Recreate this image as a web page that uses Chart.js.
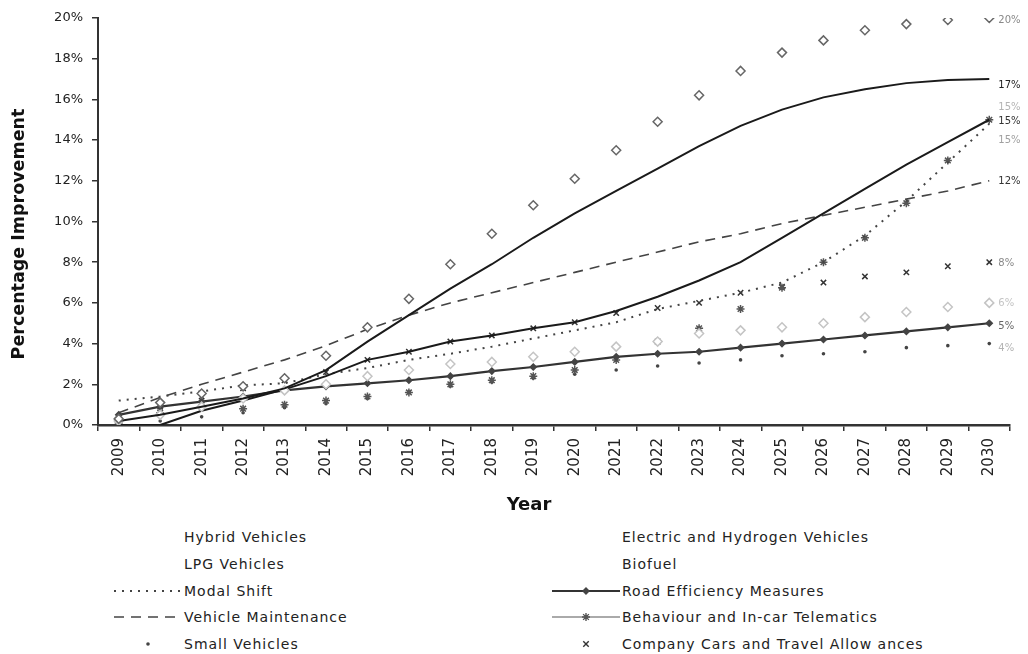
<!DOCTYPE html>
<html lang="en">
<head>
<meta charset="UTF-8">
<title>Percentage Improvement</title>
<script src="https://cdn.jsdelivr.net/npm/chart.js"></script>
<style>
  body { margin: 0; background: #fff; font-family: "DejaVu Sans", sans-serif; }
  #wrap { position: relative; width: 1028px; height: 654px; overflow: hidden; }
  #chart { position: absolute; left: 0; top: 0; }
  .item { position: absolute; height: 20px; display: flex; align-items: center; font-size: 14px; letter-spacing: 1px; color: #222; white-space: nowrap; }
  .item canvas { display: block; }
</style>
</head>
<body>
<div id="wrap">
  <canvas id="chart" width="1028" height="520"></canvas>
  <div id="legend"></div>
</div>
<script>
// data (percent)
const years = ['2009','2010','2011','2012','2013','2014','2015','2016','2017','2018','2019',
               '2020','2021','2022','2023','2024','2025','2026','2027','2028','2029','2030'];
const yTicks = [0, 2, 4, 6, 8, 10, 12, 14, 16, 18, 20];

const names = ['Hybrid Vehicles', 'Electric and Hydrogen Vehicles', 'LPG Vehicles', 'Biofuel',
               'Modal Shift', 'Road Efficiency Measures', 'Vehicle Maintenance',
               'Behaviour and In-car Telematics', 'Small Vehicles', 'Company Cars and Travel Allow ances'];

const hybrid      = [0.3, 1.1, 1.55, 1.9, 2.3, 3.4, 4.8, 6.2, 7.9, 9.4, 10.8, 12.1, 13.5, 14.9, 16.2, 17.4, 18.3, 18.9, 19.4, 19.7, 19.9, 20.0];
const electric    = [0.2, 0.5, 0.9, 1.3, 1.8, 2.7, 4.1, 5.4, 6.7, 7.9, 9.2, 10.4, 11.5, 12.6, 13.7, 14.7, 15.5, 16.1, 16.5, 16.8, 16.95, 17.0];
const lpg         = [0.2, 0.5, 0.9, 1.3, 1.7, 2.0, 2.4, 2.7, 3.0, 3.1, 3.35, 3.6, 3.85, 4.1, 4.5, 4.65, 4.8, 5.0, 5.3, 5.55, 5.8, 6.0];
const biofuel     = [0.0, 0.0, 0.7, 1.2, 1.75, 2.4, 3.2, 3.6, 4.1, 4.4, 4.75, 5.05, 5.6, 6.3, 7.1, 8.0, 9.2, 10.4, 11.6, 12.8, 13.9, 15.0];
const modal       = [1.2, 1.4, 1.65, 1.95, 2.05, 2.5, 2.8, 3.2, 3.5, 3.85, 4.25, 4.65, 5.05, 5.7, 6.1, 6.5, 7.0, 8.0, 9.3, 11.0, 12.9, 14.8];
const road        = [0.5, 0.9, 1.15, 1.4, 1.7, 1.9, 2.05, 2.2, 2.4, 2.65, 2.85, 3.1, 3.35, 3.5, 3.6, 3.8, 4.0, 4.2, 4.4, 4.6, 4.8, 5.0];
const maintenance = [0.6, 1.35, 2.0, 2.6, 3.2, 3.9, 4.7, 5.4, 6.0, 6.5, 7.0, 7.5, 8.0, 8.5, 9.0, 9.4, 9.9, 10.3, 10.7, 11.1, 11.5, 12.0];
const behaviour   = [0.1, 0.6, 0.9, 0.8, 1.0, 1.2, 1.4, 1.6, 2.0, 2.2, 2.4, 2.7, 3.2, 4.1, 4.75, 5.7, 6.75, 8.0, 9.2, 10.9, 13.0, 15.0];
const small       = [0.0, 0.2, 0.4, 0.6, 0.85, 1.05, 1.3, 1.6, 1.9, 2.1, 2.3, 2.5, 2.7, 2.9, 3.05, 3.2, 3.4, 3.5, 3.6, 3.8, 3.9, 4.0];
const company     = [0.2, 0.9, 1.4, 1.8, 2.2, 2.6, 3.2, 3.6, 4.1, 4.4, 4.75, 5.05, 5.5, 5.75, 6.0, 6.5, 6.8, 7.0, 7.3, 7.5, 7.8, 8.0];

const values = [hybrid, electric, lpg, biofuel, modal, road, maintenance, behaviour, small, company];
const endLabels = ['20%', '17%', '6%', '15%', '15%', '5%', '12%', '15%', '4%', '8%'];
const xTitle = 'Year';
const yTitle = 'Percentage Improvement';

// look of each series (same order as names)
const looks = [
  { point: 'rectRot', r: 4.5, color: '#666', fill: '#fff', noKey: true },
  { line: '#1a1a1a', width: 2, noKey: true },
  { point: 'rectRot', r: 4.5, color: '#c4c4c4', fill: '#fff', noKey: true },
  { line: '#1a1a1a', width: 2, noKey: true },
  { line: '#444', width: 2, dash: [2, 6] },
  { line: '#333', width: 2.2, point: 'rectRot', r: 3, color: '#444', fill: '#444' },
  { line: '#444', width: 1.6, dash: [10, 7] },
  { point: 'star', r: 4, color: '#555', keyLine: '#aaa' },
  { point: 'circle', r: 1.8, color: '#444', fill: '#444' },
  { point: 'crossRot', r: 3.8, color: '#333' }
];
const endStyle = [
  { color: '#888', dy: 2 }, { color: '#222', dy: 6 }, { color: '#c4c4c4', dy: 1 },
  { color: '#333', dy: 2 }, { color: '#a0a0a0', dy: 17 }, { color: '#666', dy: 3 },
  { color: '#333', dy: 1 }, { color: '#b4b4b4', dy: -12 }, { color: '#b4b4b4', dy: 5 },
  { color: '#888', dy: 1 }
];

const datasets = names.map((n, i) => {
  const s = looks[i];
  return {
    label: n,
    data: values[i],
    showLine: !!s.line,
    borderColor: s.line || s.color,
    borderWidth: s.width || 1,
    borderDash: s.dash || [],
    pointStyle: s.point || 'circle',
    pointRadius: s.point ? s.r : 0,
    pointBorderColor: s.color,
    pointBackgroundColor: s.fill || 'transparent',
    pointBorderWidth: s.point === 'circle' ? 0 : 1.5,
    tension: 0,
    fill: false
  };
});

// % labels at the right end of each series, plus the two axis titles
const extrasPlugin = {
  id: 'extras',
  afterDatasetsDraw(chart) {
    const ctx = chart.ctx;
    const x = chart.scales.x.getPixelForValue(years.length - 1) + 9;
    ctx.save();
    ctx.font = '10px "DejaVu Sans"';
    ctx.textBaseline = 'middle';
    ctx.textAlign = 'left';
    values.forEach((v, i) => {
      const y = chart.scales.y.getPixelForValue(v[v.length - 1]) + endStyle[i].dy;
      ctx.fillStyle = endStyle[i].color;
      ctx.fillText(endLabels[i], x, y);
    });
    ctx.fillStyle = '#111';
    ctx.textAlign = 'center';
    ctx.font = 'bold 18px "DejaVu Sans"';
    ctx.fillText(xTitle, 529, 505);
    ctx.translate(19, 234);
    ctx.rotate(-Math.PI / 2);
    ctx.font = 'bold 17.5px "DejaVu Sans"';
    ctx.fillText(yTitle, 0, 0);
    ctx.restore();
  }
};

new Chart(document.getElementById('chart'), {
  type: 'line',
  data: { labels: years, datasets: datasets },
  options: {
    responsive: false,
    animation: false,
    layout: { padding: { top: 18, right: 18, left: 0, bottom: 0 } },
    plugins: { legend: { display: false }, tooltip: { enabled: false } },
    scales: {
      x: {
        offset: true,
        grid: { offset: true, drawOnChartArea: false, tickLength: 6, color: '#333', lineWidth: 1.5 },
        border: { color: '#333', width: 2.5 },
        ticks: { minRotation: 90, maxRotation: 90, padding: 7, color: '#222', font: { family: 'DejaVu Sans', size: 15 } },
        afterFit(scale) { scale.height = 95; }
      },
      y: {
        min: 0, max: 20,
        afterBuildTicks(scale) { scale.ticks = yTicks.map(v => ({ value: v })); },
        grid: { drawOnChartArea: false, tickLength: 6, color: '#333', lineWidth: 1.5 },
        border: { color: '#333', width: 2 },
        ticks: { padding: 9, color: '#222', font: { family: 'DejaVu Sans', size: 13 }, callback: v => v + '%' },
        afterFit(scale) { scale.width = 98; }
      }
    }
  },
  plugins: [extrasPlugin]
});

// legend below the chart, two columns
function mark(ctx, style, x, y, r) {
  ctx.beginPath();
  if (style === 'rectRot') {
    ctx.moveTo(x, y - r); ctx.lineTo(x + r, y); ctx.lineTo(x, y + r); ctx.lineTo(x - r, y); ctx.closePath();
    ctx.fill(); ctx.stroke();
  } else if (style === 'circle') {
    ctx.arc(x, y, r, 0, Math.PI * 2); ctx.fill();
  } else {
    const d = r * 0.72;
    ctx.moveTo(x - d, y - d); ctx.lineTo(x + d, y + d);
    ctx.moveTo(x + d, y - d); ctx.lineTo(x - d, y + d);
    if (style === 'star') { ctx.moveTo(x, y - r); ctx.lineTo(x, y + r); ctx.moveTo(x - r, y); ctx.lineTo(x + r, y); }
    ctx.stroke();
  }
}

const legend = document.getElementById('legend');
names.forEach((n, i) => {
  const s = looks[i];
  const col = i % 2, row = Math.floor(i / 2);
  const item = document.createElement('div');
  item.className = 'item';
  item.style.left = (col ? 550 : 112) + 'px';
  item.style.top = (527 + row * 26.8) + 'px';
  const cv = document.createElement('canvas');
  cv.width = 72; cv.height = 20;
  const ctx = cv.getContext('2d');
  if (!s.noKey) {
    const lc = s.line || s.keyLine;
    if (lc) {
      ctx.strokeStyle = lc; ctx.lineWidth = s.width || 2; ctx.setLineDash(s.dash || []);
      ctx.beginPath(); ctx.moveTo(2, 10); ctx.lineTo(70, 10); ctx.stroke();
      ctx.setLineDash([]);
    }
    if (s.point) {
      ctx.strokeStyle = s.color; ctx.fillStyle = s.fill || s.color; ctx.lineWidth = 1.4;
      mark(ctx, s.point, 36, 10, s.r);
    }
  }
  const txt = document.createElement('span');
  txt.textContent = n;
  item.appendChild(cv);
  item.appendChild(txt);
  legend.appendChild(item);
});
</script>
</body>
</html>
